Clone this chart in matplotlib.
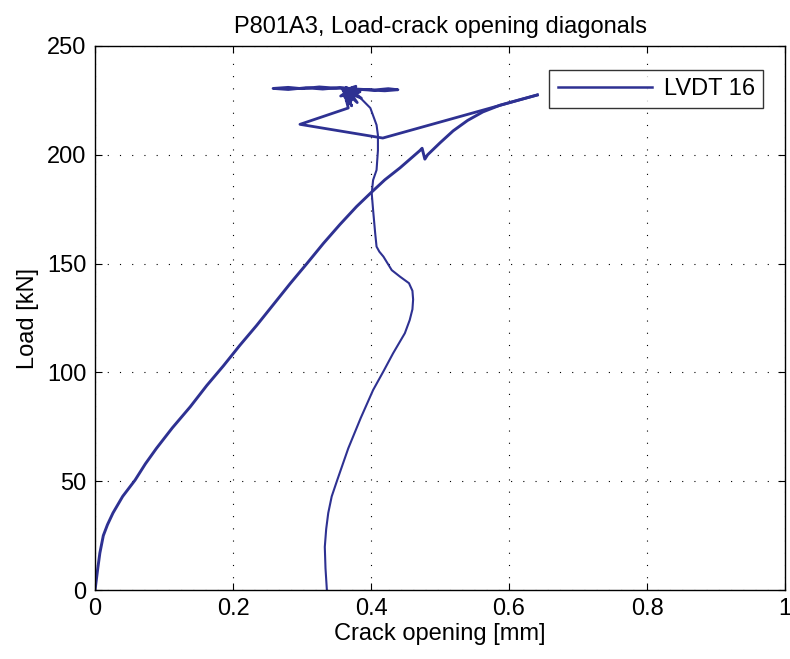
import matplotlib
matplotlib.use("Agg")
import matplotlib.pyplot as plt

plt.rcParams['font.family'] = ['Liberation Sans', 'DejaVu Sans']

# loading branch (left), up to peak
load_x = [0.000, 0.002, 0.004, 0.007, 0.012, 0.018, 0.026, 0.040, 0.058, 0.073,
          0.089, 0.112, 0.138, 0.162, 0.186, 0.210, 0.234, 0.258, 0.283, 0.307,
          0.331, 0.355, 0.379, 0.399, 0.420, 0.442, 0.471, 0.474, 0.478, 0.482,
          0.500, 0.519, 0.540, 0.562, 0.587, 0.612, 0.641]
load_y = [0.0, 5.0, 10.0, 17.0, 25.0, 30.0, 35.4, 43.0, 50.5, 58.0,
          65.1, 74.5, 84.2, 94.0, 103.0, 112.5, 121.5, 131.0, 140.9, 150.0,
          159.3, 168.0, 176.2, 182.3, 188.5, 194.0, 202.0, 203.0, 198.0, 200.0,
          205.5, 211.0, 215.8, 219.7, 222.8, 225.0, 227.5]

# jump back after peak and the scatter around 230 kN
jump_x = [0.641, 0.417, 0.297, 0.367,
          0.362, 0.372, 0.358, 0.380, 0.364, 0.386, 0.360, 0.378, 0.364, 0.382,
          0.368, 0.374, 0.356, 0.384, 0.362, 0.376,
          0.350, 0.325, 0.300, 0.280, 0.258, 0.280, 0.305, 0.330, 0.355, 0.380,
          0.405, 0.425, 0.439, 0.420, 0.395, 0.370]
jump_y = [227.5, 207.7, 214.0, 221.5,
          228.0, 222.5, 230.5, 224.0, 231.0, 226.0, 229.5, 231.5, 225.0, 230.0,
          223.5, 231.0, 227.0, 229.0, 226.5, 230.5,
          230.6, 231.2, 230.4, 231.0, 230.5, 230.0, 230.8, 230.2, 230.9, 230.2,
          229.8, 230.4, 229.9, 229.4, 229.8, 230.3]

# second branch starting at 0.336 mm
right_x = [0.336, 0.334, 0.333, 0.335, 0.338, 0.343, 0.351, 0.367, 0.385, 0.403,
           0.418, 0.432, 0.449, 0.456, 0.460, 0.461, 0.460, 0.455, 0.442, 0.430,
           0.418, 0.412, 0.408, 0.406, 0.403, 0.401, 0.403, 0.408, 0.410, 0.410,
           0.408, 0.399, 0.385, 0.375]
right_y = [0.0, 10.0, 19.8, 28.0, 35.4, 43.0, 50.5, 65.1, 79.0, 91.9,
           100.5, 108.8, 118.0, 124.0, 129.0, 133.5, 137.5, 141.0, 144.0, 147.0,
           153.2, 155.5, 157.8, 164.0, 174.6, 182.3, 188.4, 193.0, 202.0, 209.0,
           213.7, 221.5, 226.0, 229.0]

color = '#2e3192'

fig = plt.figure(figsize=(7.9, 6.59), dpi=100)
ax = fig.add_axes([0.1203, 0.1047, 0.8734, 0.8255])

ax.plot(load_x, load_y, color=color, linewidth=2.1, label='LVDT 16')
ax.plot(jump_x, jump_y, color=color, linewidth=2.0, solid_joinstyle='round')
ax.plot(right_x, right_y, color=color, linewidth=1.5)

ax.set_xlim(0, 1)
ax.set_ylim(0, 250)
ax.set_xticks([0, 0.2, 0.4, 0.6, 0.8, 1])
ax.set_xticklabels(['0', '0.2', '0.4', '0.6', '0.8', '1'])
ax.set_yticks([0, 50, 100, 150, 200, 250])
ax.tick_params(direction='in', top=True, right=True, labelsize=17, length=5, pad=6)
ax.grid(True, color='black', linestyle=(0, (1, 10)), linewidth=0.8)
for s in ax.spines.values():
    s.set_linewidth(1.0)

ax.set_xlabel('Crack opening [mm]', fontsize=17, labelpad=2)
ax.set_ylabel('Load [kN]', fontsize=17, labelpad=6)
ax.set_title('P801A3, Load-crack opening diagonals', fontsize=17, pad=9)

leg = ax.legend(loc='upper right', fontsize=17, fancybox=False, edgecolor='black',
                handlelength=4.0, borderpad=0.35, handletextpad=0.5,
                bbox_to_anchor=(0.9855, 0.978))
leg.get_frame().set_linewidth(1.0)
leg.get_lines()[0].set_linewidth(1.8)

fig.savefig('out.png', dpi=100)
